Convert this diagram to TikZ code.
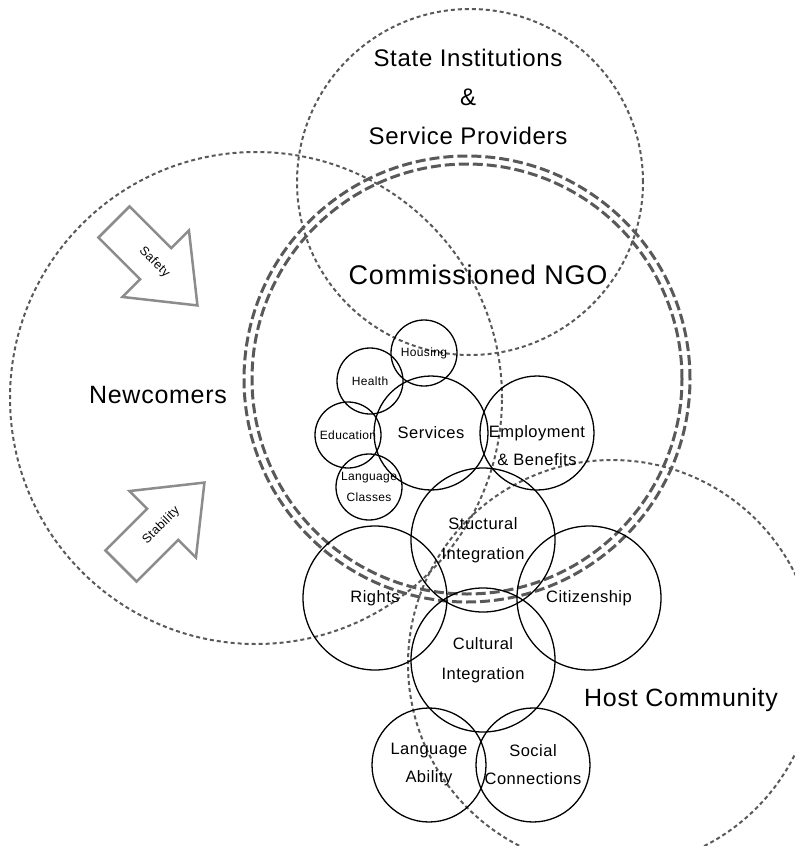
\documentclass[tikz,border=0pt]{standalone}
\usepackage{fontspec}
\setmainfont{Liberation Sans}[LetterSpace=3]
\definecolor{ringgray}{HTML}{595959}
\definecolor{arrowgray}{HTML}{8C8C8C}

\begin{document}
\begin{tikzpicture}[x=1pt,y=-1pt,
    zone/.style={draw=ringgray,line width=2pt,dash pattern=on 4pt off 3pt},
    ngo/.style={draw=ringgray,line width=3pt,dash pattern=on 10pt off 4pt},
    bub/.style={circle,draw,line width=1.3pt,inner sep=0pt,align=center},
    small/.style={bub,minimum size=66pt,font=\fontsize{12}{21}\selectfont},
    mid/.style={bub,minimum size=114pt,font=\fontsize{16.5}{28}\selectfont},
    big/.style={bub,minimum size=144pt,font=\fontsize{16.5}{30}\selectfont},
    title/.style={align=center,inner sep=0pt},
    arrowshape/.style={draw=arrowgray,line width=2.5pt,line join=miter},
    arrowtext/.style={inner sep=0pt,font=\fontsize{12.5}{14}\selectfont}]
  \useasboundingbox (0,0) rectangle (795,846);
  \clip (0,0) rectangle (795,846);

  % dotted zones
  \draw[zone] (470,182) circle[radius=173pt];
  \draw[zone] (256,398) circle[radius=246pt];
  \draw[zone] (612,664) circle[radius=204pt];

  % NGO ring
  \draw[ngo] (467,379) circle[radius=215pt];
  \draw[ngo] (467,379) circle[radius=223pt];

  % labels of the zones
  \node[title,font=\fontsize{24}{39}\selectfont] (state) at (468,97)
    {State Institutions\\\&\\Service Providers};
  \node[title,font=\fontsize{27}{32}\selectfont] (ngo) at (478,275) {Commissioned NGO};
  \node[title,font=\fontsize{25}{30}\selectfont] (newcomers) at (158,395) {Newcomers};
  \node[title,font=\fontsize{25}{30}\selectfont] (host) at (681,700) {Host Community};

  % services
  \node[small] (housing) at (424,353) {Housing};
  \node[small] (health) at (370,381) {Health};
  \node[small] (education) at (348,435) {Education};
  \node[small] (classes) at (369,487) {Language\\Classes};
  \node[mid] (services) at (431,433) {Services};
  \node[mid] (employment) at (537,433) {};
  \node[title,font=\fontsize{16.5}{28}\selectfont] (emplabel)
    at ([yshift=-13pt]employment.center) {Employment\\\& Benefits};

  % integration
  \node[big] (structural) at (483,540) {Stuctural\\Integration};
  \node[big] (rights) at (375,598) {Rights};
  \node[big] (citizenship) at (589,598) {Citizenship};
  \node[big] (cultural) at (483,660) {Cultural\\Integration};
  \node[mid] (ability) at (429,765) {Language\\Ability};
  \node[mid] (social) at (533,765) {Social\\Connections};

  % arrows
  \begin{scope}[shift={(114,222)},rotate=-45]
    \draw[arrowshape] (0,22) -- (59,22) -- (59,47) -- (118,0)
      -- (59,-47) -- (59,-22) -- (0,-22) -- cycle;
    \node[arrowtext,rotate=-45] (safety) at (57,0) {Safety};
  \end{scope}
  \begin{scope}[shift={(121,566)},rotate=45]
    \draw[arrowshape] (0,22) -- (59,22) -- (59,47) -- (118,0)
      -- (59,-47) -- (59,-22) -- (0,-22) -- cycle;
    \node[arrowtext,rotate=45] (stability) at (57,0) {Stability};
  \end{scope}
\end{tikzpicture}
\end{document}
